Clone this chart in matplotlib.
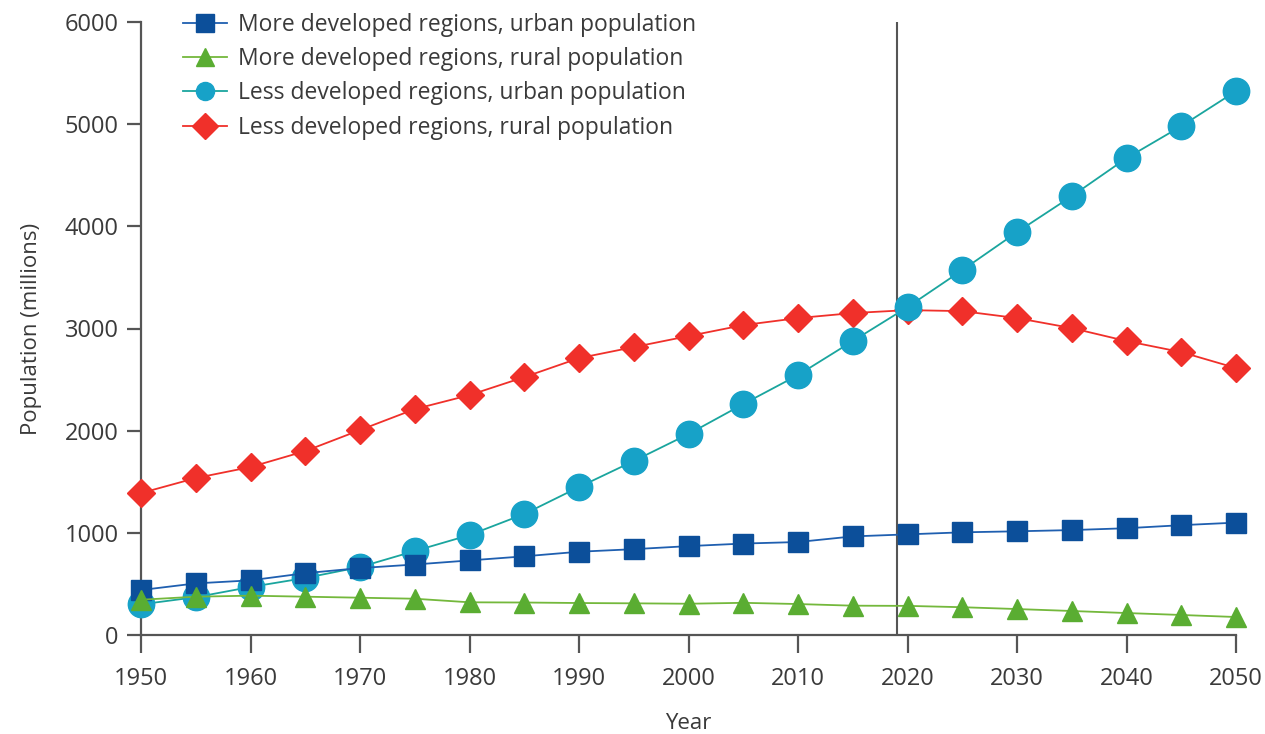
import matplotlib
matplotlib.use('Agg')
import matplotlib.pyplot as plt

# --- Data ---
years = list(range(1950, 2051, 5))
more_dev_urban = [440, 505, 535, 605, 655, 690, 730, 770, 815, 840, 870, 895, 910, 965, 985, 1005, 1015, 1027, 1045, 1075, 1100]
more_dev_rural = [345, 375, 385, 375, 365, 355, 320, 318, 313, 310, 306, 315, 303, 287, 285, 272, 254, 235, 215, 196, 176]
less_dev_urban = [300, 370, 470, 558, 665, 822, 978, 1184, 1448, 1703, 1967, 2260, 2544, 2877, 3209, 3571, 3943, 4295, 4667, 4980, 5323]
less_dev_rural = [1389, 1536, 1644, 1800, 2006, 2211, 2348, 2524, 2710, 2818, 2926, 3033, 3102, 3151, 3180, 3170, 3102, 3004, 2877, 2769, 2613]
labels = ["More developed regions, urban population",
          "More developed regions, rural population",
          "Less developed regions, urban population",
          "Less developed regions, rural population"]
divider_year = 2019
x_ticks = list(range(1950, 2051, 10))
y_ticks = list(range(0, 6001, 1000))

plt.rcParams['font.family'] = ['Open Sans', 'DejaVu Sans']
text_col = '#3a3a3a'
axis_col = '#555555'

fig = plt.figure(figsize=(12.65, 7.34), dpi=100)
ax = fig.add_axes([141 / 1265, 1 - 635 / 734, (1236 - 141) / 1265, (635 - 22) / 734])

ax.axvline(divider_year, color='#555555', lw=1.5, zorder=1)

ax.plot(years, less_dev_rural, color='#f0302a', lw=1.3, marker='D', ms=14,
        mfc='#f0302a', mec='#f0302a', label=labels[3], clip_on=False, zorder=3)
ax.plot(years, less_dev_urban, color='#1aa59e', lw=1.3, marker='o', ms=19,
        mfc='#17a2c8', mec='#17a2c8', label=labels[2], clip_on=False, zorder=4)
ax.plot(years, more_dev_urban, color='#1f5fb0', lw=1.3, marker='s', ms=15,
        mfc='#0c4f9a', mec='#0c4f9a', label=labels[0], clip_on=False, zorder=5)
ax.plot(years, more_dev_rural, color='#74b83c', lw=1.3, marker='^', ms=15,
        mfc='#5aad32', mec='#5aad32', label=labels[1], clip_on=False, zorder=6)

ax.set_xlim(1950, 2050)
ax.set_ylim(0, 6000)
ax.set_xticks(x_ticks)
ax.set_yticks(y_ticks)
for s in ['top', 'right']:
    ax.spines[s].set_visible(False)
for s in ['left', 'bottom']:
    ax.spines[s].set_color(axis_col)
    ax.spines[s].set_linewidth(1.6)
ax.tick_params(direction='out', width=1.6, color=axis_col,
               labelsize=17, labelcolor=text_col)
ax.tick_params(axis='x', length=13, pad=10)
ax.tick_params(axis='y', length=10, pad=6)
ax.set_xlabel("Year", fontsize=16, color=text_col)
ax.xaxis.set_label_coords(0.5, -0.128)
ax.set_ylabel("Population (millions)", fontsize=16, color=text_col)
ax.yaxis.set_label_coords(-0.090, 0.5)

h, l = ax.get_legend_handles_labels()
order = [2, 3, 1, 0]
ax.legend([h[i] for i in order], [l[i] for i in order], loc='upper left',
          bbox_to_anchor=(0.03, 1.03), frameon=False, fontsize=16.5,
          labelcolor=text_col, handlelength=1.9, handletextpad=0.5,
          labelspacing=0.45, borderaxespad=0)
for line in ax.get_legend().get_lines():
    line.set_markersize(13)

fig.savefig('out.png', dpi=100)
